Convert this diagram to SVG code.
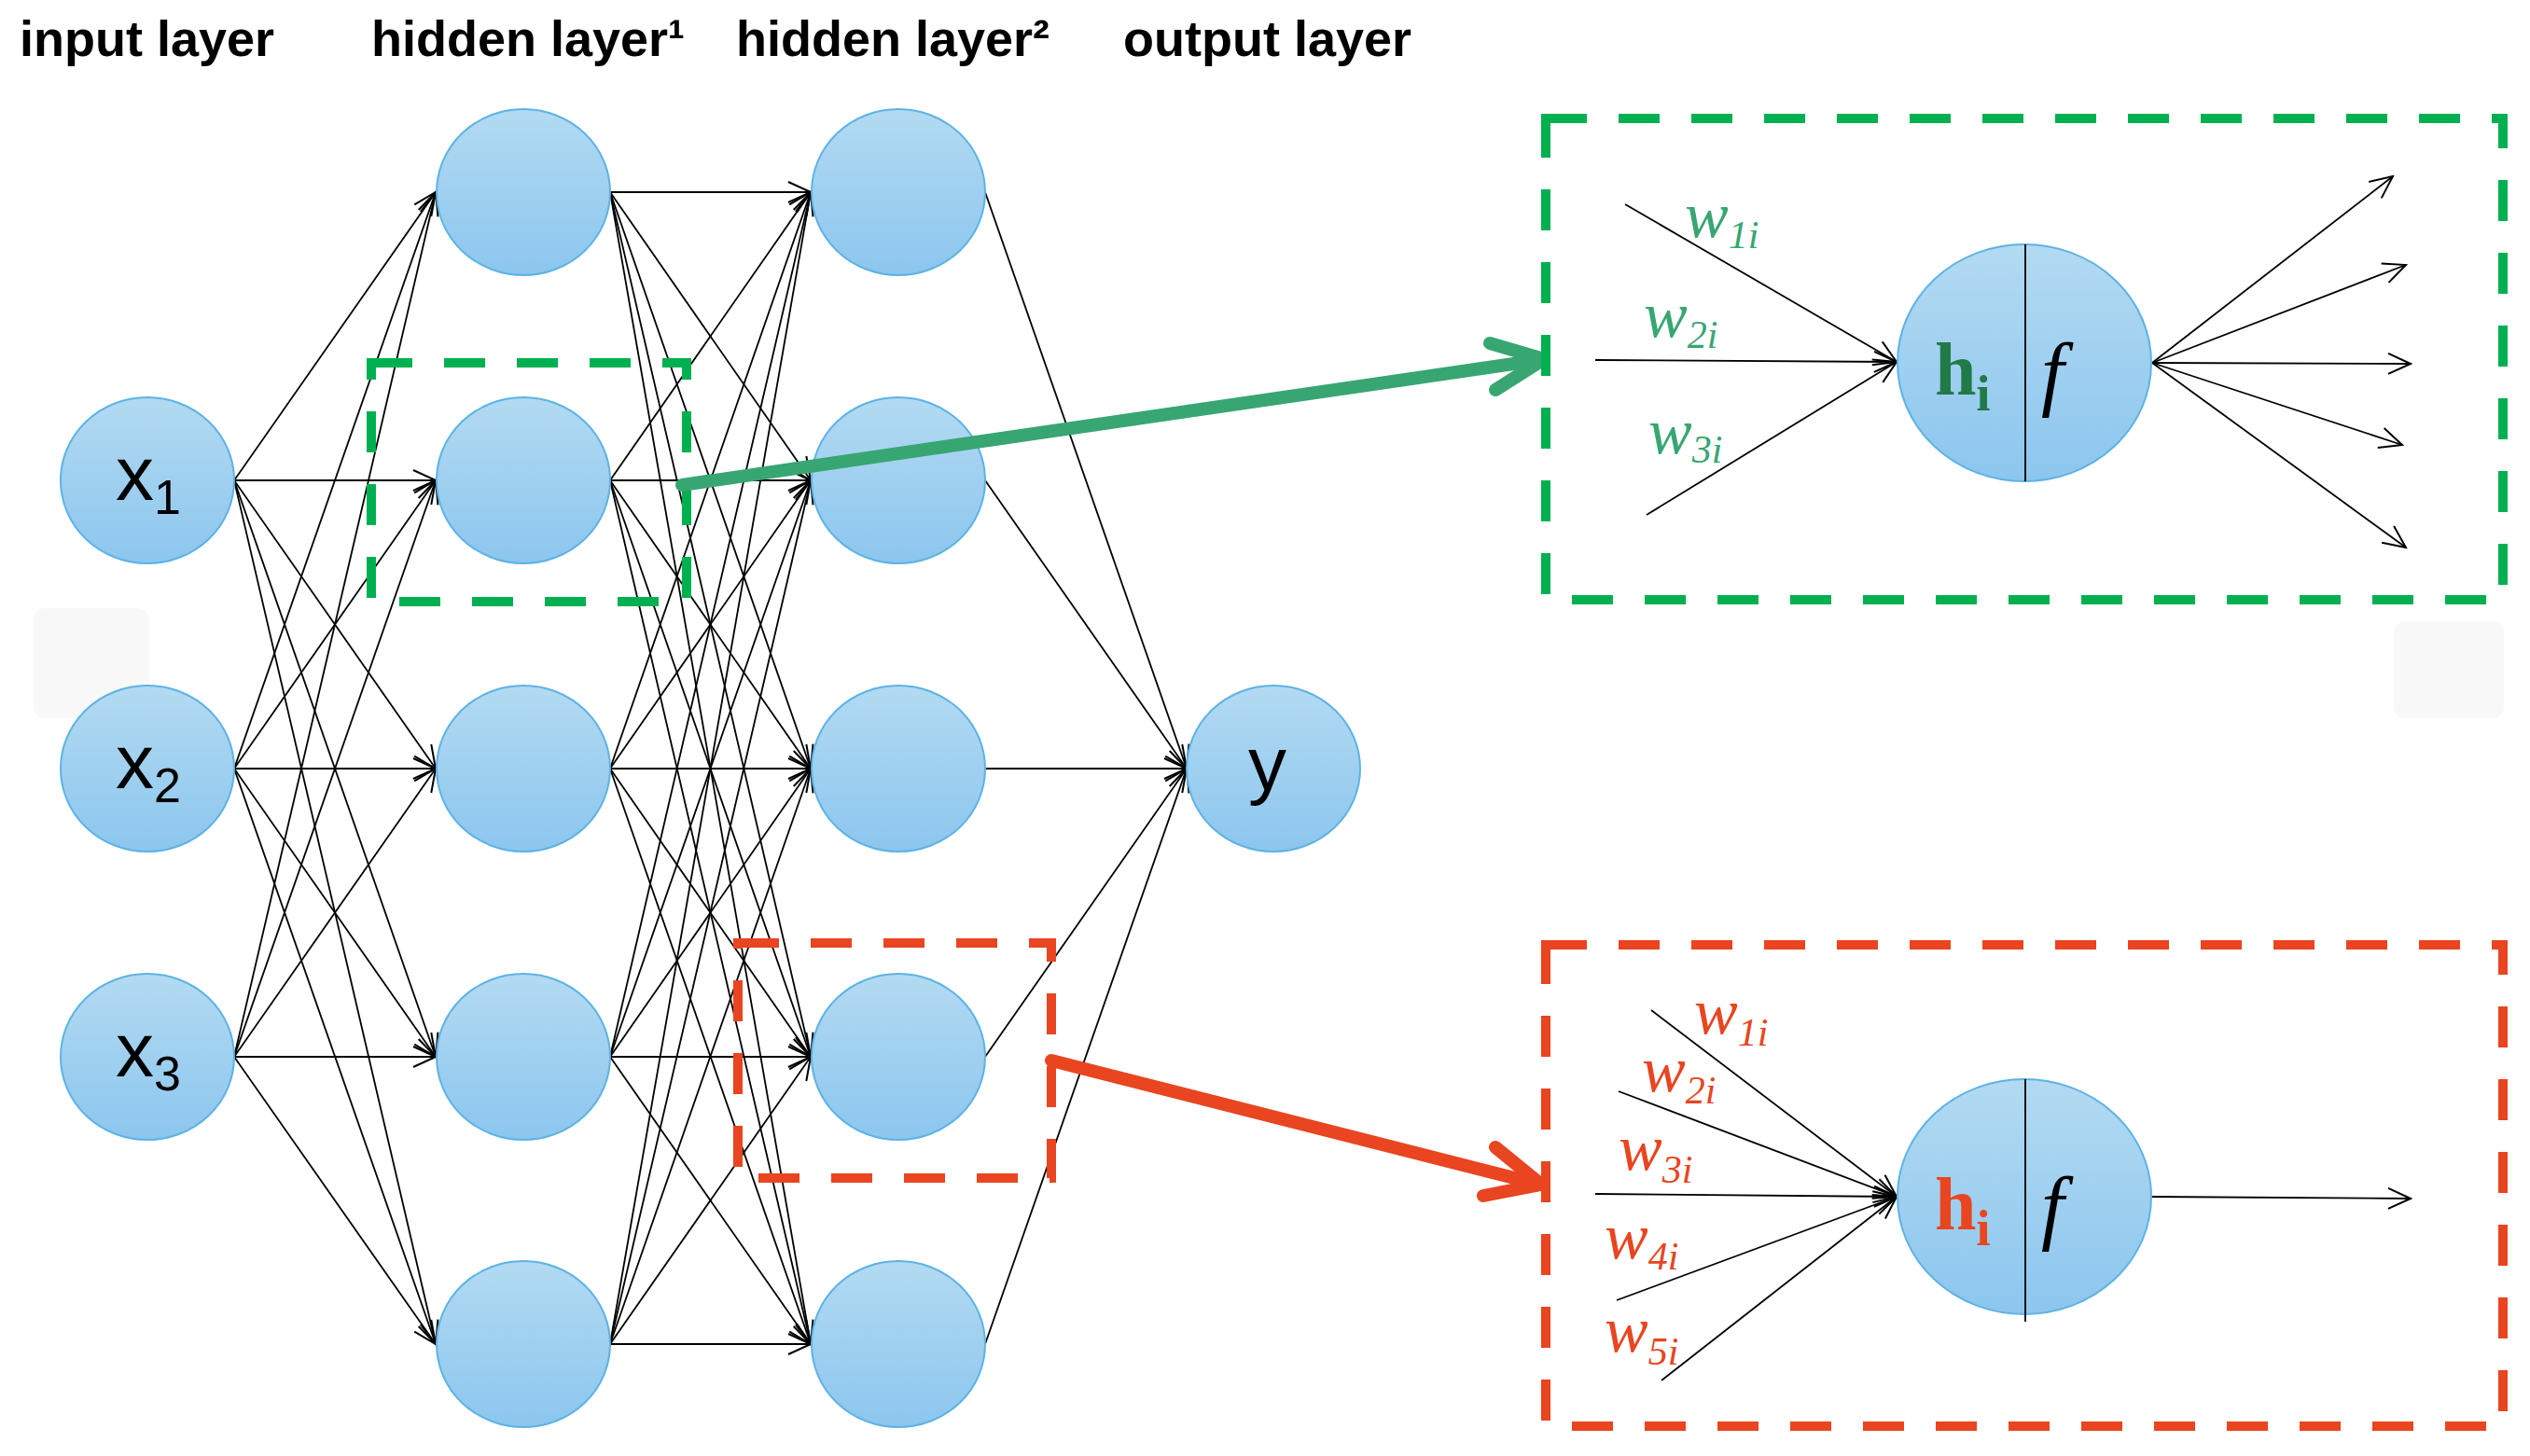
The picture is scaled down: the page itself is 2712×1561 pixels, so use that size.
<svg xmlns="http://www.w3.org/2000/svg" width="2712" height="1561" viewBox="0 0 2712 1561">
<defs>
<linearGradient id="nodeGrad" x1="0" y1="0" x2="0" y2="1">
<stop offset="0" stop-color="#B3DAF2"/>
<stop offset="1" stop-color="#8CC6EE"/>
</linearGradient>
<marker id="arr" viewBox="-28 -14 30 28" markerWidth="30" markerHeight="28" refX="0" refY="0" orient="auto" markerUnits="userSpaceOnUse">
<path d="M-24,-11 L0,0 L-24,11" fill="none" stroke="#000" stroke-width="2"/>
</marker>
<style>
.node{fill:url(#nodeGrad);stroke:#5DB3E4;stroke-width:2}
.ln{stroke:#000;stroke-width:1.8;fill:none}
.la{stroke:#000;stroke-width:1.8;fill:none;marker-end:url(#arr)}
.title{font-family:"Liberation Sans",Arial,sans-serif;font-weight:bold;font-size:54px;fill:#000}
.nl{font-family:"Liberation Sans",Arial,sans-serif;font-size:82px;fill:#000}
.sub{font-size:52px}
.w{font-family:"Liberation Serif","Times New Roman",serif;font-style:italic;font-size:70px}
.ws{font-size:42px}
.h{font-family:"Liberation Serif","Times New Roman",serif;font-weight:bold;font-size:80px}
.hs{font-size:54px}
.f{font-family:"Liberation Serif","Times New Roman",serif;font-style:italic;font-size:88px;fill:#000}
.dg{fill:none;stroke:#00B050;stroke-width:10;stroke-dasharray:44 34}
.dr{fill:none;stroke:#E84520;stroke-width:10;stroke-dasharray:44 34}
.tg{fill:none;stroke:#38A672;stroke-width:14;stroke-linecap:round;stroke-linejoin:round}
.tr{fill:none;stroke:#E84520;stroke-width:14;stroke-linecap:round;stroke-linejoin:round}
</style>
</defs>
<rect width="2712" height="1561" fill="#fff"/>
<rect x="36" y="652" width="124" height="118" rx="12" fill="#F8F8F8"/>
<rect x="2566" y="666" width="118" height="104" rx="12" fill="#F8F8F8"/>

<g id="titles">
<text class="title" x="21" y="60">input layer</text>
<text class="title" x="398" y="60">hidden layer¹</text>
<text class="title" x="789" y="60">hidden layer²</text>
<text class="title" x="1204" y="60">output layer</text>
</g>

<g id="connectors">
<!-- input to hidden1 -->
<line class="la" x1="251" y1="515" x2="467" y2="206"/>
<line class="la" x1="251" y1="515" x2="467" y2="515"/>
<line class="la" x1="251" y1="515" x2="467" y2="824"/>
<line class="la" x1="251" y1="515" x2="467" y2="1133"/>
<line class="la" x1="251" y1="515" x2="467" y2="1441"/>
<line class="la" x1="251" y1="824" x2="467" y2="206"/>
<line class="la" x1="251" y1="824" x2="467" y2="515"/>
<line class="la" x1="251" y1="824" x2="467" y2="824"/>
<line class="la" x1="251" y1="824" x2="467" y2="1133"/>
<line class="la" x1="251" y1="824" x2="467" y2="1441"/>
<line class="la" x1="251" y1="1133" x2="467" y2="206"/>
<line class="la" x1="251" y1="1133" x2="467" y2="515"/>
<line class="la" x1="251" y1="1133" x2="467" y2="824"/>
<line class="la" x1="251" y1="1133" x2="467" y2="1133"/>
<line class="la" x1="251" y1="1133" x2="467" y2="1441"/>
<!-- hidden1 to hidden2 -->
<line class="la" x1="654" y1="206" x2="869" y2="206"/>
<line class="la" x1="654" y1="206" x2="869" y2="515"/>
<line class="la" x1="654" y1="206" x2="869" y2="824"/>
<line class="la" x1="654" y1="206" x2="869" y2="1133"/>
<line class="la" x1="654" y1="206" x2="869" y2="1441"/>
<line class="la" x1="654" y1="515" x2="869" y2="206"/>
<line class="la" x1="654" y1="515" x2="869" y2="515"/>
<line class="la" x1="654" y1="515" x2="869" y2="824"/>
<line class="la" x1="654" y1="515" x2="869" y2="1133"/>
<line class="la" x1="654" y1="515" x2="869" y2="1441"/>
<line class="la" x1="654" y1="824" x2="869" y2="206"/>
<line class="la" x1="654" y1="824" x2="869" y2="515"/>
<line class="la" x1="654" y1="824" x2="869" y2="824"/>
<line class="la" x1="654" y1="824" x2="869" y2="1133"/>
<line class="la" x1="654" y1="824" x2="869" y2="1441"/>
<line class="la" x1="654" y1="1133" x2="869" y2="206"/>
<line class="la" x1="654" y1="1133" x2="869" y2="515"/>
<line class="la" x1="654" y1="1133" x2="869" y2="824"/>
<line class="la" x1="654" y1="1133" x2="869" y2="1133"/>
<line class="la" x1="654" y1="1133" x2="869" y2="1441"/>
<line class="la" x1="654" y1="1441" x2="869" y2="206"/>
<line class="la" x1="654" y1="1441" x2="869" y2="515"/>
<line class="la" x1="654" y1="1441" x2="869" y2="824"/>
<line class="la" x1="654" y1="1441" x2="869" y2="1133"/>
<line class="la" x1="654" y1="1441" x2="869" y2="1441"/>
<!-- hidden2 to output -->
<line class="la" x1="1056" y1="206" x2="1272" y2="824"/>
<line class="la" x1="1056" y1="515" x2="1272" y2="824"/>
<line class="la" x1="1056" y1="824" x2="1272" y2="824"/>
<line class="la" x1="1056" y1="1133" x2="1272" y2="824"/>
<line class="la" x1="1056" y1="1441" x2="1272" y2="824"/>
</g>

<g id="input-layer">
<g id="x1"><ellipse class="node" cx="158" cy="515" rx="93" ry="89"/><text class="nl" x="124" y="536">x<tspan class="sub" dy="15">1</tspan></text></g>
<g id="x2"><ellipse class="node" cx="158" cy="824" rx="93" ry="89"/><text class="nl" x="124" y="845">x<tspan class="sub" dy="15">2</tspan></text></g>
<g id="x3"><ellipse class="node" cx="158" cy="1133" rx="93" ry="89"/><text class="nl" x="124" y="1154">x<tspan class="sub" dy="15">3</tspan></text></g>
</g>
<g id="hidden-layer-1">
<g id="h1-1"><ellipse class="node" cx="561" cy="206" rx="93" ry="89"/></g>
<g id="h1-2"><ellipse class="node" cx="561" cy="515" rx="93" ry="89"/></g>
<g id="h1-3"><ellipse class="node" cx="561" cy="824" rx="93" ry="89"/></g>
<g id="h1-4"><ellipse class="node" cx="561" cy="1133" rx="93" ry="89"/></g>
<g id="h1-5"><ellipse class="node" cx="561" cy="1441" rx="93" ry="89"/></g>
</g>
<g id="hidden-layer-2">
<g id="h2-1"><ellipse class="node" cx="963" cy="206" rx="93" ry="89"/></g>
<g id="h2-2"><ellipse class="node" cx="963" cy="515" rx="93" ry="89"/></g>
<g id="h2-3"><ellipse class="node" cx="963" cy="824" rx="93" ry="89"/></g>
<g id="h2-4"><ellipse class="node" cx="963" cy="1133" rx="93" ry="89"/></g>
<g id="h2-5"><ellipse class="node" cx="963" cy="1441" rx="93" ry="89"/></g>
</g>
<g id="output-layer">
<g id="y"><ellipse class="node" cx="1365" cy="824" rx="93" ry="89"/><text class="nl" x="1338" y="847">y</text></g>
</g>

<g id="highlight-green">
<rect class="dg" x="398" y="389" width="338" height="256"/>
</g>
<g id="highlight-red">
<rect class="dr" x="791" y="1011" width="336" height="252"/>
</g>

<g id="zoom-arrows">
<line class="tg" x1="731" y1="520" x2="1650" y2="386"/>
<polyline class="tg" points="1597,368 1655,385 1603,418"/>
<line class="tr" x1="1127" y1="1137" x2="1647" y2="1269"/>
<polyline class="tr" points="1603,1230 1652,1270 1590,1282"/>
</g>

<g id="detail-green">
<rect class="dg" x="1657" y="127" width="1026" height="516"/>
<g id="detail-green-lines">
<line class="la" x1="1742" y1="219" x2="2033" y2="388"/>
<line class="la" x1="1710" y1="386" x2="2033" y2="388"/>
<line class="la" x1="1765" y1="552" x2="2033" y2="388"/>
<line class="la" x1="2307" y1="389" x2="2565" y2="189"/>
<line class="la" x1="2307" y1="389" x2="2579" y2="284"/>
<line class="la" x1="2307" y1="389" x2="2584" y2="390"/>
<line class="la" x1="2307" y1="389" x2="2575" y2="477"/>
<line class="la" x1="2307" y1="389" x2="2579" y2="587"/>
</g>
<g id="neuron-green">
<ellipse class="node" cx="2170" cy="389" rx="136" ry="127"/>
<line class="ln" x1="2171" y1="262" x2="2171" y2="516"/>
<text class="h" x="2074" y="423" fill="#217A47">h<tspan class="hs" dy="17">i</tspan></text>
<text class="f" x="2188" y="429">f</text>
</g>
<g fill="#38A672">
<text class="w" x="1806" y="254">w<tspan class="ws" dy="12">1i</tspan></text>
<text class="w" x="1762" y="361">w<tspan class="ws" dy="12">2i</tspan></text>
<text class="w" x="1767" y="486">w<tspan class="ws" dy="10">3i</tspan></text>
</g>
</g>

<g id="detail-red">
<rect class="dr" x="1657" y="1013" width="1026" height="516"/>
<g id="detail-red-lines">
<line class="la" x1="1770" y1="1083" x2="2033" y2="1283"/>
<line class="la" x1="1735" y1="1170" x2="2033" y2="1283"/>
<line class="la" x1="1710" y1="1280" x2="2033" y2="1283"/>
<line class="la" x1="1733" y1="1394" x2="2033" y2="1283"/>
<line class="la" x1="1781" y1="1480" x2="2033" y2="1283"/>
<line class="la" x1="2307" y1="1283" x2="2584" y2="1285"/>
</g>
<g id="neuron-red">
<ellipse class="node" cx="2170" cy="1283" rx="136" ry="126"/>
<line class="ln" x1="2171" y1="1157" x2="2171" y2="1417"/>
<text class="h" x="2074" y="1318" fill="#E84520">h<tspan class="hs" dy="17">i</tspan></text>
<text class="f" x="2188" y="1323">f</text>
</g>
<g fill="#E84520">
<text class="w" x="1816" y="1108">w<tspan class="ws" dy="13">1i</tspan></text>
<text class="w" x="1760" y="1170">w<tspan class="ws" dy="13">2i</tspan></text>
<text class="w" x="1735" y="1254">w<tspan class="ws" dy="14">3i</tspan></text>
<text class="w" x="1720" y="1349">w<tspan class="ws" dy="12">4i</tspan></text>
<text class="w" x="1720" y="1449">w<tspan class="ws" dy="14">5i</tspan></text>
</g>
</g>
</svg>
